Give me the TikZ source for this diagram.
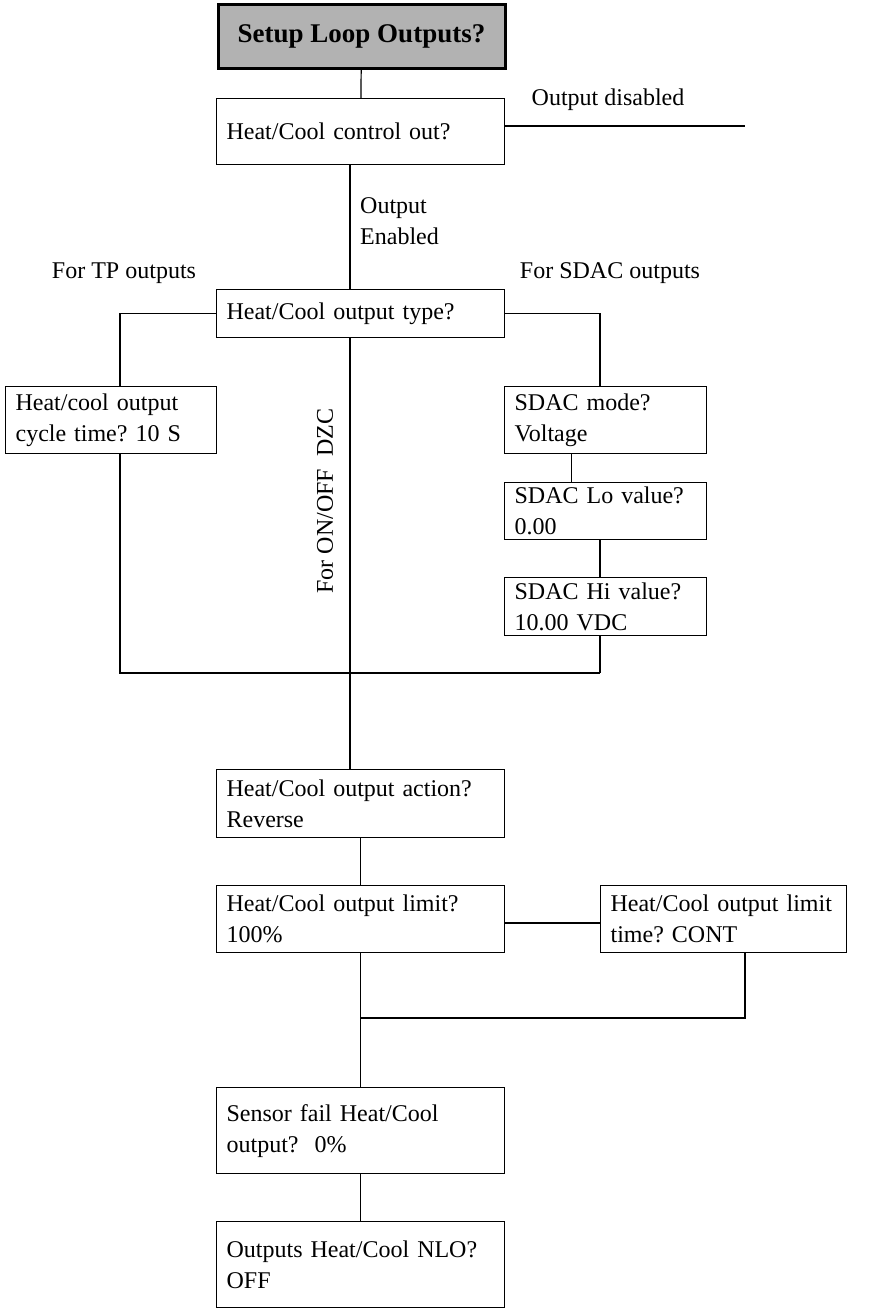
\documentclass[tikz,border=0pt]{standalone}
\usepackage{fontspec}
\setmainfont{Liberation Serif}
\usepackage{tikz}
\frenchspacing

\begin{document}
\begin{tikzpicture}[x=1pt,y=-1pt]\fontsize{24}{31}\selectfont
\tikzstyle{block} = [rectangle, draw=black, line width=1.2pt, fill=white, anchor=north west, align=left, inner xsep=10pt, inner ysep=1pt]
\tikzstyle{title} = [rectangle, draw=black, line width=3pt, fill=black!30, anchor=north west, minimum width=287pt, minimum height=64pt, font=\fontsize{27}{31}\selectfont\bfseries]
\tikzstyle{note} = [inner sep=2pt]
\tikzstyle{line} = [draw, line width=1.2pt]

\useasboundingbox (0,0) rectangle (879,1310);

	% main column
	\node [title] (setup) at (216.5,2.5) {Setup Loop Outputs?};
	\node [block, text width=268pt, minimum height=66pt] (ctrl) at (216,98) {Heat/Cool control out?};
	\node [block, text width=268pt, minimum height=48pt] (type) at (216,289) {Heat/Cool output type?};
	% TP branch
	\node [block, text width=191pt, minimum height=67pt] (cycle) at (5,386) {Heat/cool output\\cycle time? 10 S};
	% SDAC branch
	\node [block, text width=182pt, minimum height=67pt] (mode) at (504,386) {SDAC mode?\\Voltage};
	\node [block, text width=182pt, minimum height=57pt] (lo) at (504,482) {SDAC Lo value?\\0.00};
	\node [block, text width=182pt, minimum height=58pt] (hi) at (504,577) {SDAC Hi value?\\10.00 VDC};
	% after the branches
	\node [block, text width=268pt, minimum height=68pt] (act) at (216,769) {Heat/Cool output action?\\Reverse};
	\node [block, text width=268pt, minimum height=67pt] (lim) at (216,885) {Heat/Cool output limit?\\100\%};
	\node [block, text width=226pt, minimum height=67pt] (limt) at (600,885) {Heat/Cool output limit\\time? CONT};
	\node [block, text width=268pt, minimum height=86pt] (sens) at (216,1087) {Sensor fail Heat/Cool\\output?~~0\%};
	\node [block, text width=268pt, minimum height=86pt] (nlo) at (216,1221) {Outputs Heat/Cool NLO?\\OFF};

	% labels
	\node [note] (disabled) at (608,100) {Output disabled};
	\node [note, anchor=west, align=left] (enabled) at (358,221) {Output\\Enabled};
	\node [note] (tp) at (124,273) {For TP outputs};
	\node [note] (sdac) at (610,273) {For SDAC outputs};
	\node [note, rotate=90] (onoff) at (325,501) {For ON/OFF~~DZC};

	\coordinate (axis) at (350,0);
	\coordinate (dis) at (745,126);
	\coordinate (tpc) at (120,673);
	\coordinate (sdc) at (600,673);
	\coordinate (link) at (0,923);
	\coordinate (merge) at (360,1018);

\tikzstyle{every path}=[line]
	\path (setup) -- (ctrl);
	\path (ctrl.east |- dis) -- (dis);
	\path (ctrl.south -| axis) -- (type.north -| axis);
	\path (type.west) -| (tpc |- cycle.north);
	\path (cycle.south -| tpc) -- (tpc) -- (sdc);
	\path (type.east) -| (sdc |- mode.north);
	\path ([xshift=-34pt]mode.south) -- ([xshift=-34pt]lo.north);
	\path (lo.south -| sdc) -- (hi.north -| sdc);
	\path (hi.south -| sdc) -- (sdc);
	\path (type.south -| axis) -- (act.north -| axis);
	\path (act) -- (lim);
	\path (lim.east |- link) -- (limt.west |- link);
	\path (limt.south -| dis) |- (merge);
	\path (lim) -- (sens);
	\path (sens) -- (nlo);
\end{tikzpicture}
\end{document}
